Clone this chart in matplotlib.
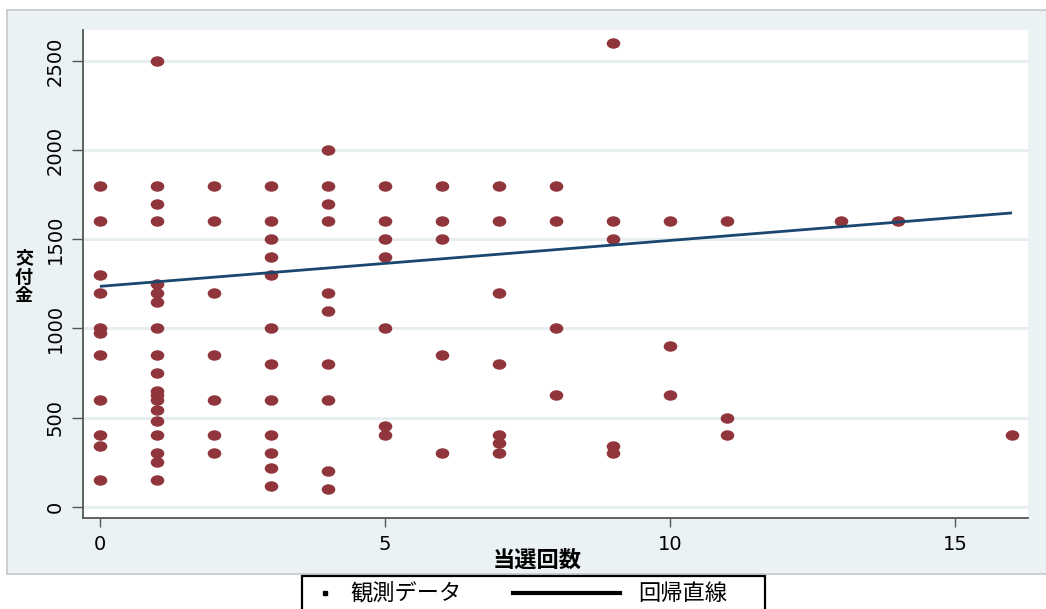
import numpy as np
import matplotlib
matplotlib.use("Agg")
import matplotlib.pyplot as plt
from matplotlib.path import Path
from matplotlib.patches import Rectangle
from matplotlib.lines import Line2D
from matplotlib.transforms import Affine2D

# 当選回数 (x) and 交付金 (y) observations, grouped by number of wins
wins_0 = [1800, 1600, 1300, 1200, 1000, 975, 850, 600, 400, 340, 150]
wins_1 = [2500, 1800, 1700, 1600, 1250, 1200, 1150, 1000, 850, 750, 650, 625,
          600, 540, 480, 400, 300, 250, 150]
wins_2 = [1800, 1600, 1200, 850, 600, 400, 300]
wins_3 = [1800, 1600, 1500, 1400, 1300, 1000, 800, 600, 400, 300, 215, 115]
wins_4 = [2000, 1800, 1700, 1600, 1200, 1100, 800, 600, 200, 100]
wins_5 = [1800, 1600, 1500, 1400, 1000, 450, 400]
wins_6 = [1800, 1600, 1500, 850, 300]
wins_7 = [1800, 1600, 1200, 800, 400, 360, 300]
wins_8 = [1800, 1600, 1000, 625]
wins_9 = [2600, 1600, 1500, 340, 300]
wins_10 = [1600, 900, 625]
wins_11 = [1600, 500, 400]
wins_13 = [1600]
wins_14 = [1600]
wins_16 = [400]

groups = {0: wins_0, 1: wins_1, 2: wins_2, 3: wins_3, 4: wins_4, 5: wins_5,
          6: wins_6, 7: wins_7, 8: wins_8, 9: wins_9, 10: wins_10, 11: wins_11,
          13: wins_13, 14: wins_14, 16: wins_16}

# fitted regression line
fit_intercept = 1236.0
fit_slope = 25.75
fit_x_range = [0, 16]

x_ticks = [0, 5, 10, 15]
y_ticks = [0, 500, 1000, 1500, 2000, 2500]

x_title = "当選回数"
y_title = "交付金"
legend_points = "観測データ"
legend_line = "回帰直線"

x_obs = np.concatenate([[k] * len(v) for k, v in groups.items()])
y_obs = np.concatenate([v for v in groups.values()])

W, H = 1046, 609
fig = plt.figure(figsize=(W / 100, H / 100), dpi=100)
fig.patch.set_facecolor("white")

bg = "#EAF2F3"
maroon = "#90353B"
navy = "#1A476F"
cjk = ["Noto Sans CJK JP", "DejaVu Sans"]

def fx(px):
    return px / W

def fy(py):
    return 1 - py / H

# outer graph region
fig.patches.append(Rectangle((fx(7), fy(574)), 1.2, fy(10) - fy(574),
                             transform=fig.transFigure, facecolor=bg,
                             edgecolor="#C4C8CA", linewidth=1.2, zorder=-10))

ax = fig.add_axes([fx(83), fy(518), fx(1028) - fx(83), fy(30) - fy(518)])
ax.set_zorder(1)
ax.set_facecolor("white")
ax.set_xlim(-0.298, 16.28)
ax.set_ylim(-63.4, 2674)

for s in ["top", "right"]:
    ax.spines[s].set_visible(False)
for s in ["left", "bottom"]:
    ax.spines[s].set_color("#555555")
    ax.spines[s].set_linewidth(1.3)

ax.set_xticks(x_ticks)
ax.set_yticks(y_ticks)
ax.tick_params(axis="x", length=6.5, width=1.0, color="#555555", pad=6,
               labelsize=14)
ax.tick_params(axis="y", length=8, width=1.0, color="#555555", pad=5,
               labelsize=14, labelrotation=90)
for lab in ax.get_yticklabels():
    lab.set_verticalalignment("center")
ax.yaxis.grid(True, color="#E6EEF0", linewidth=2.2)
ax.set_axisbelow(True)

# elliptical marker
circ = Path.unit_circle()
ellipse = circ.transformed(Affine2D().scale(1.3, 1.0))
ax.plot(x_obs, y_obs, linestyle="none", marker=ellipse, markersize=9.8,
        color=maroon, markeredgewidth=0, zorder=3)

xf = np.array(fit_x_range, dtype=float)
ax.plot(xf, fit_intercept + fit_slope * xf, color=navy, linewidth=2.0,
        zorder=4, solid_capstyle="butt")

fig.text(fx(537), fy(560), x_title, family=cjk, fontweight="bold",
         fontsize=16, ha="center", va="center")
fig.text(fx(24), fy(277), "\n".join(y_title), family=cjk, fontweight="bold",
         fontsize=13, ha="center", va="center", linespacing=1.0)

# legend box
fig.patches.append(Rectangle((fx(302), fy(640)), fx(765) - fx(302),
                             fy(576) - fy(640), transform=fig.transFigure,
                             facecolor="white", edgecolor="black",
                             linewidth=1.6, zorder=5))
fig.lines.append(Line2D([fx(325)], [fy(593)], transform=fig.transFigure,
                        marker="s", markersize=3, color="black",
                        linestyle="none", zorder=6))
fig.text(fx(350), fy(593), legend_points, family=cjk, fontsize=16,
         ha="left", va="center", zorder=6)
fig.lines.append(Line2D([fx(513), fx(620)], [fy(593), fy(593)],
                        transform=fig.transFigure, color="black",
                        linewidth=3, zorder=6))
fig.text(fx(638), fy(593), legend_line, family=cjk, fontsize=16,
         ha="left", va="center", zorder=6)

fig.savefig("out.png", dpi=100)
